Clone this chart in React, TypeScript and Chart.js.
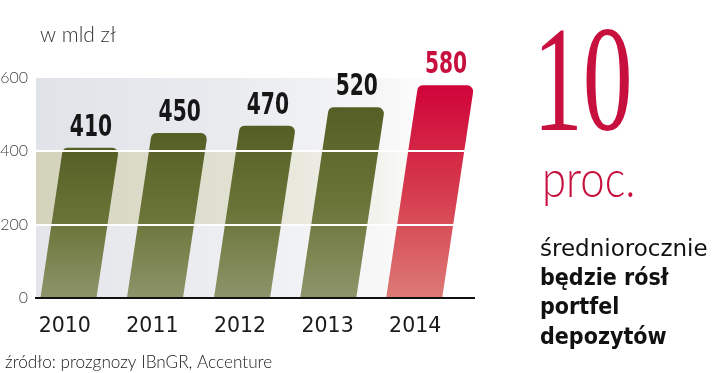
import React, { useEffect, useRef } from "react";
import { Chart, registerables } from "chart.js";

Chart.register(...registerables);

// ---- data ----
const years = ["2010", "2011", "2012", "2013", "2014"];
const values = [410, 450, 470, 520, 580];
const yTicks = [0, 200, 400, 600];
const highlightIndex = 4;
const unitLabel = "w mld zł";
const sourceLabel = "źródło: prozgnozy IBnGR, Accenture";
const bigNumber = "10";
const bigUnit = "proc.";
const sideLine1 = "średniorocznie";
const sideBold = ["będzie rósł", "portfel", "depozytów"];

const SLANT = 0.15;
const RED = "#c8103e";

const slantedBars = {
  id: "slantedBars",
  beforeDatasetsDraw(chart: any) {
    const { ctx, chartArea: a, scales } = chart;
    const y = scales.y;
    const bands = [
      { from: 400, to: 600, c: ["#e0e3e8", "#e9ebef", "#f6f6f7", "#ffffff"] },
      { from: 200, to: 400, c: ["#d3d3bc", "#e1e1d2", "#f3f3ee", "#ffffff"] },
      { from: 0, to: 200, c: ["#e3e5ea", "#eceef1", "#f7f7f8", "#ffffff"] },
    ];
    ctx.save();
    bands.forEach((b) => {
      const top = y.getPixelForValue(b.to);
      const bot = y.getPixelForValue(b.from);
      const g = ctx.createLinearGradient(a.left, 0, a.right, 0);
      g.addColorStop(0, b.c[0]);
      g.addColorStop(0.45, b.c[1]);
      g.addColorStop(0.78, b.c[2]);
      g.addColorStop(0.92, b.c[3]);
      ctx.fillStyle = g;
      ctx.fillRect(a.left, top, a.right - a.left, bot - top);
    });
    ctx.restore();
  },
  afterDatasetsDraw(chart: any) {
    const { ctx } = chart;
    const meta = chart.getDatasetMeta(0);
    ctx.save();
    meta.data.forEach((bar: any, i: number) => {
      const { x, y, base, width } = bar.getProps(["x", "y", "base", "width"], true);
      const h = base - y;
      const dx = (SLANT * h) / 2;
      const r = 6;
      const tl = x + dx - width / 2;
      const tr = x + dx + width / 2;
      const bl = x - dx - width / 2;
      const br = x - dx + width / 2;
      const g = ctx.createLinearGradient(0, y, 0, base);
      if (i === highlightIndex) {
        g.addColorStop(0, "#d0043a");
        g.addColorStop(0.5, "#d63a4c");
        g.addColorStop(1, "#dc7a76");
      } else {
        g.addColorStop(0, "#555f25");
        g.addColorStop(0.5, "#6b7438");
        g.addColorStop(1, "#8d946a");
      }
      ctx.beginPath();
      ctx.moveTo(bl, base);
      ctx.arcTo(tl, y, tr, y, r);
      ctx.arcTo(tr, y, br, base, r);
      ctx.lineTo(br, base);
      ctx.closePath();
      ctx.fillStyle = g;
      ctx.fill();

      ctx.save();
      ctx.translate(x + dx, y - 12);
      ctx.scale(0.75, 1);
      ctx.font = "bold 30px 'DejaVu Sans Condensed', 'DejaVu Sans', sans-serif";
      ctx.textAlign = "center";
      ctx.textBaseline = "alphabetic";
      ctx.fillStyle = i === highlightIndex ? RED : "#161616";
      ctx.fillText(String(values[i]), 0, 0);
      ctx.restore();
    });
    ctx.restore();
  },
  afterDraw(chart: any) {
    const { ctx } = chart;
    ctx.save();
    ctx.textAlign = "left";
    ctx.textBaseline = "alphabetic";

    ctx.fillStyle = "#333333";
    ctx.font = "300 21px Lato, sans-serif";
    ctx.fillText(unitLabel, 40, 42);

    ctx.fillStyle = "#222222";
    ctx.font = "300 17.2px Lato, sans-serif";
    ctx.fillText(sourceLabel, 5, 368);

    ctx.fillStyle = RED;
    ctx.save();
    ctx.translate(533, 130);
    ctx.scale(0.66, 1);
    ctx.font = "151px 'Liberation Serif', serif";
    ctx.fillText(bigNumber, 0, 0);
    ctx.restore();

    ctx.save();
    ctx.translate(542, 197);
    ctx.scale(0.84, 1);
    ctx.font = "300 52px Lato, sans-serif";
    ctx.fillText(bigUnit, 0, 0);
    ctx.restore();

    ctx.fillStyle = "#111111";
    ctx.font = "23px 'DejaVu Sans', sans-serif";
    ctx.fillText(sideLine1, 540, 256);
    ctx.font = "bold 23px 'DejaVu Sans Condensed', 'DejaVu Sans', sans-serif";
    const bl = [285, 314, 344];
    sideBold.forEach((t, i) => ctx.fillText(t, 540, bl[i]));
    ctx.restore();
  },
};

export default function App() {
  const ref = useRef<HTMLCanvasElement | null>(null);
  useEffect(() => {
    if (!ref.current) return;
    const chart = new Chart(ref.current, {
      type: "bar",
      data: {
        labels: years,
        datasets: [
          {
            data: values,
            backgroundColor: "rgba(0,0,0,0)",
            borderWidth: 0,
            barPercentage: 0.64,
            categoryPercentage: 1,
          },
        ],
      },
      options: {
        responsive: false,
        animation: false,
        devicePixelRatio: 1,
        layout: { padding: { top: 78, right: 246, bottom: 0, left: 0 } },
        plugins: { legend: { display: false }, tooltip: { enabled: false }, title: { display: false } },
        events: [],
        scales: {
          x: {
            grid: { display: false },
            border: { display: true, color: "#111111", width: 2, z: 1 },
            ticks: {
              color: "#1a1a1a",
              font: { family: "'DejaVu Sans', sans-serif", size: 20.5 },
              padding: 8,
              labelOffset: -15,
              maxRotation: 0,
            },
            afterFit: (s: any) => {
              s.height = 75;
            },
          },
          y: {
            min: 0,
            max: 600,
            afterBuildTicks: (s: any) => {
              s.ticks = yTicks.map((v) => ({ value: v }));
            },
            grid: {
              z: 1,
              drawTicks: false,
              lineWidth: 2,
              color: (c: any) =>
                c.tick && (c.tick.value === 200 || c.tick.value === 400) ? "#ffffff" : "rgba(0,0,0,0)",
            },
            border: { display: false },
            ticks: {
              color: "#444444",
              font: { family: "Lato, sans-serif", size: 16, weight: "300" as any },
              padding: 8,
            },
            afterFit: (s: any) => {
              s.width = 36;
            },
          },
        },
      },
      plugins: [slantedBars],
    });
    return () => chart.destroy();
  }, []);
  return (
    <div style={{ position: "fixed", left: 0, top: 0, width: 720, height: 373, background: "#ffffff" }}>
      <canvas ref={ref} width={720} height={373} style={{ display: "block", width: 720, height: 373 }} />
    </div>
  );
}
